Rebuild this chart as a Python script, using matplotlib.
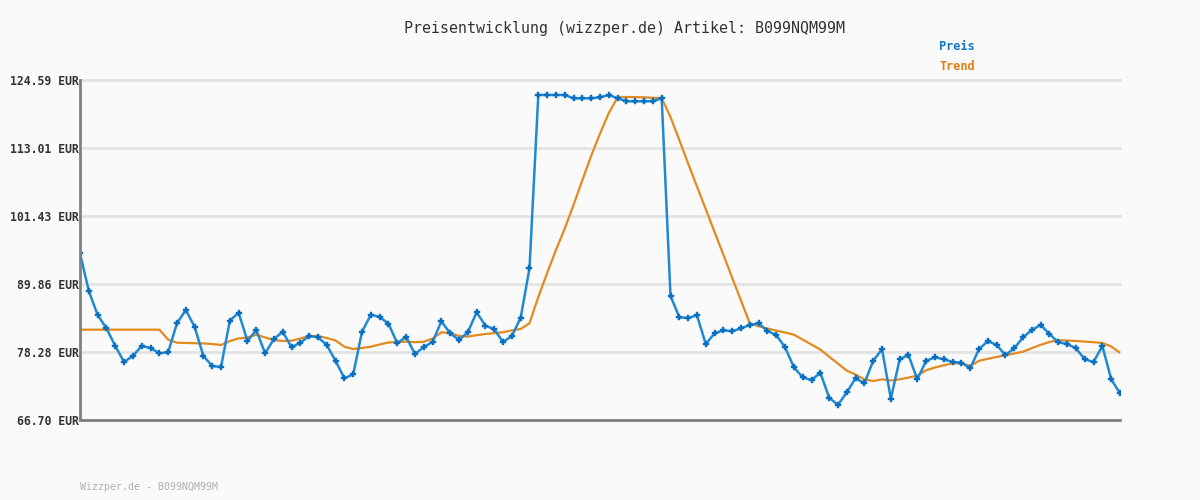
import matplotlib
matplotlib.use("Agg")
import matplotlib.pyplot as plt

# ---- data ----
preis = [95.08, 88.67, 84.58, 82.31, 79.30, 76.58, 77.60, 79.30, 78.96, 78.06,
         78.23, 83.16, 85.43, 82.59, 77.60, 75.90, 75.72, 83.61, 84.97, 80.15,
         82.02, 78.06, 80.49, 81.74, 79.08, 79.86, 80.99, 80.78, 79.47, 76.75,
         73.80, 74.48, 81.74, 84.63, 84.24, 83.10, 79.76, 80.88, 77.94, 79.13,
         79.98, 83.51, 81.46, 80.32, 81.63, 85.04, 82.76, 82.15, 79.98, 80.99,
         84.12, 92.53, 122.04, 122.04, 122.04, 122.04, 121.47, 121.47, 121.47, 121.64,
         122.04, 121.47, 120.96, 120.96, 120.96, 120.96, 121.47, 87.81, 84.19, 84.07,
         84.53, 79.64, 81.46, 81.97, 81.80, 82.31, 82.88, 83.16, 81.85, 81.17,
         79.08, 75.67, 73.97, 73.51, 74.75, 70.50, 69.26, 71.42, 73.80, 72.95,
         76.80, 78.74, 70.33, 77.04, 77.77, 73.63, 76.75, 77.38, 77.04, 76.58,
         76.46, 75.50, 78.74, 80.15, 79.47, 77.77, 78.91, 80.78, 82.02, 82.88,
         81.34, 79.93, 79.64, 78.91, 77.04, 76.58, 79.30, 73.63, 71.25]

trend = [82.08, 82.08, 82.08, 82.08, 82.08, 82.08, 82.08, 82.08, 82.08, 82.08,
         80.39, 79.86, 79.81, 79.78, 79.74, 79.64, 79.47, 80.13, 80.59, 80.75,
         81.22, 80.75, 80.32, 80.15, 80.20, 80.58, 81.00, 81.00, 80.66, 80.24,
         79.18, 78.79, 78.96, 79.18, 79.56, 79.90, 79.98, 80.03, 79.95, 80.02,
         80.58, 81.62, 81.51, 81.00, 80.90, 81.14, 81.34, 81.48, 81.65, 81.96,
         82.20, 83.17, 87.64, 91.70, 95.63, 99.29, 103.32, 107.55, 111.68, 115.46,
         118.97, 121.61, 121.70, 121.68, 121.64, 121.56, 121.47, 118.29, 114.37, 110.37,
         106.47, 102.59, 98.71, 94.83, 90.91, 87.03, 83.13, 82.67, 82.28, 81.92,
         81.60, 81.22, 80.39, 79.54, 78.70, 77.48, 76.29, 75.10, 74.43, 73.60,
         73.34, 73.63, 73.43, 73.62, 73.92, 74.26, 75.16, 75.64, 76.01, 76.34,
         76.36, 75.90, 76.78, 77.12, 77.43, 77.73, 78.02, 78.33, 78.93, 79.51,
         79.98, 80.32, 80.22, 80.15, 80.05, 79.95, 79.81, 79.22, 78.16]

y_ticks = [66.70, 78.28, 89.86, 101.43, 113.01, 124.59]
y_tick_labels = ["66.70 EUR", "78.28 EUR", "89.86 EUR", "101.43 EUR", "113.01 EUR", "124.59 EUR"]

title = "Preisentwicklung (wizzper.de) Artikel: B099NQM99M"
footer = "Wizzper.de - B099NQM99M"

# ---- figure ----
W, H = 1200, 500
bg = "#fafafa"
fig = plt.figure(figsize=(12, 5), dpi=100, facecolor=bg)
ax = fig.add_axes([80 / W, 80 / H, 1040 / W, 340 / H], facecolor=bg)

x = list(range(len(preis)))
ax.set_xlim(0, len(preis) - 1)
ax.set_ylim(y_ticks[0], y_ticks[-1])

for t in y_ticks:
    ax.axhline(t, color="#e3e3e3", lw=2.0, zorder=1, clip_on=False)

ax.plot(x, trend, color="#e38a1f", lw=1.6, zorder=3, solid_joinstyle="round")
ax.plot(x, preis, color="#2089d3", lw=1.8, zorder=4, solid_joinstyle="round",
        marker="P", markersize=4.2, markerfacecolor="#0a6fc0",
        markeredgecolor="#0a6fc0", markeredgewidth=0.3)

ax.set_yticks(y_ticks)
ax.set_yticklabels(y_tick_labels, family="DejaVu Sans Mono", fontweight="bold",
                   fontsize=8.3, color="#333333")
ax.set_xticks([])
ax.tick_params(axis="y", length=0, pad=1)

for s in ["top", "right"]:
    ax.spines[s].set_visible(False)
for s in ["left", "bottom"]:
    ax.spines[s].set_color("#808080")
    ax.spines[s].set_linewidth(2.0)
    ax.spines[s].set_zorder(5)

fig.text(624 / W, 1 - 28 / H, title, ha="center", va="center",
         family="DejaVu Sans Mono", fontsize=10.8, color="#333333")
fig.text(939 / W, 1 - 47 / H, "Preis", ha="left", va="center",
         family="DejaVu Sans Mono", fontweight="bold", fontsize=8.6, color="#1478c8")
fig.text(939 / W, 1 - 67 / H, "Trend", ha="left", va="center",
         family="DejaVu Sans Mono", fontweight="bold", fontsize=8.6, color="#e07d10")
fig.text(80 / W, 1 - 487 / H, footer, ha="left", va="center",
         family="DejaVu Sans Mono", fontsize=7.1, color="#b0b0b0")

fig.savefig("out.png", dpi=100, facecolor=bg)
